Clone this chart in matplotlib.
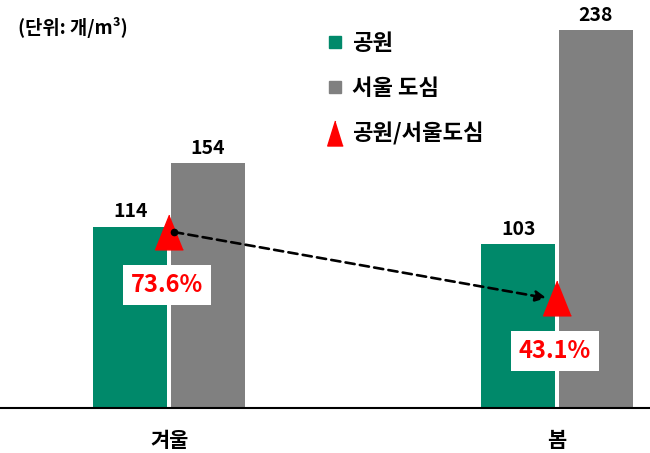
#!/usr/bin/env python3

"""Bar chart of particle counts in parks vs. downtown Seoul, by season."""

import matplotlib as mpl
import matplotlib.pyplot as plt
import numpy as np
from matplotlib.lines import Line2D

mpl.use("agg")

seasons = ["겨울", "봄"]
park = [114, 103]
downtown = [154, 238]
ratio = [73.6, 43.1]

GREEN = "#00896a"
GRAY = "#808080"
RED = "#ff0000"


def main():
    """Entry point."""
    plt.rcParams["font.family"] = ["Noto Sans CJK KR", "DejaVu Sans"]

    fig = plt.figure(figsize=(6.5, 4.53), dpi=100)
    ax = fig.add_axes([0.0, 45 / 453, 1.0, 398 / 453])
    x = np.arange(len(seasons))
    w = 0.19

    bars_p = ax.bar(x - 0.1, park, w, color=GREEN)
    bars_d = ax.bar(x + 0.1, downtown, w, color=GRAY)
    for bars, vals in ((bars_p, park), (bars_d, downtown)):
        for b, v in zip(bars, vals):
            ax.annotate(
                f"{v}",
                (b.get_x() + b.get_width() / 2, v),
                xytext=(0, 4),
                textcoords="offset points",
                ha="center",
                va="bottom",
                fontsize=14,
                fontweight="bold",
            )

    # ratio on its own scale
    ax2 = ax.twinx()
    ax2.set_ylim(-7.7, 176.2)
    ax2.axis("off")

    ax.set_xlim(-169 / 388, 481 / 388)
    ax.set_ylim(0, 398 / 1.588)
    ax.set_xticks(x)
    ax.set_xticklabels(seasons, fontsize=15, fontweight="bold")
    ax.tick_params(axis="x", length=0, pad=16)
    ax.tick_params(axis="y", left=False, right=False,
                   labelleft=False, labelright=False)
    for s in ("top", "left", "right"):
        ax.spines[s].set_visible(False)
    ax.spines["bottom"].set_linewidth(1.5)

    tri = [(0, 1), (-0.8, -1), (0.8, -1)]
    ax2.plot(x, ratio, linestyle="none", marker=tri, markersize=25,
             color=RED, zorder=3)
    ax2.plot([x[0] + 0.013], [ratio[0]], marker="o", markersize=4.5,
             color="black", zorder=4)
    ax2.annotate(
        "",
        xy=(x[1] - 0.027, ratio[1]),
        xytext=(x[0] + 0.013, ratio[0]),
        arrowprops=dict(arrowstyle="-|>", color="black", lw=1.9,
                        linestyle=(0, (3.5, 2)), mutation_scale=16,
                        shrinkA=0, shrinkB=0),
        zorder=4,
    )
    for xi, r in zip(x, ratio):
        ax2.annotate(
            f"{r}%",
            (xi - 0.005, r),
            xytext=(0, -38),
            textcoords="offset points",
            ha="center",
            va="center",
            fontsize=17,
            fontweight="bold",
            color=RED,
            bbox=dict(boxstyle="square,pad=0.35", fc="white", ec="none"),
        )

    tri_leg = [(0, 1), (-0.62, -1), (0.62, -1)]
    handles = [
        Line2D([], [], linestyle="none", marker="s", markersize=9, color=GREEN),
        Line2D([], [], linestyle="none", marker="s", markersize=9, color=GRAY),
        Line2D([], [], linestyle="none", marker=tri_leg, markersize=18,
               color=RED),
    ]
    fig.legend(
        handles,
        ["공원", "서울 도심", "공원/서울도심"],
        loc="upper left",
        bbox_to_anchor=(324 / 650, 1 - 32 / 453),
        frameon=False,
        prop=dict(size=16, weight="bold"),
        labelspacing=1.0,
        handlelength=1.0,
        handletextpad=0.25,
        borderpad=0,
        borderaxespad=0,
    )

    fig.text(18 / 650, 1 - 28 / 453, "(단위: 개/m³)", fontsize=13.5,
             fontweight="bold", va="center", ha="left")

    fig.savefig("out.png", dpi=100)


if __name__ == "__main__":
    main()
